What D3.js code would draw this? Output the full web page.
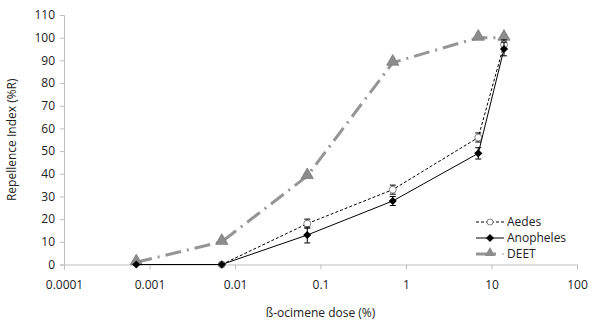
<!DOCTYPE html>
<html>
<head>
<meta charset="utf-8">
<script src="https://cdn.jsdelivr.net/npm/d3@7"></script>
<style>
  body { margin: 0; background: #fff; }
  svg text { font-family: "Open Sans", "Noto Sans", sans-serif; fill: #222; }
</style>
</head>
<body>
<div id="chart"></div>
<script>
// data
var doses = [0.0007, 0.007, 0.07, 0.7, 7, 14]
var aedesDose = [0.007, 0.07, 0.7, 7, 14]
var aedes = [0, 18, 33, 56, 97]
var aedesErr = [0, 2, 2, 2, 2]
var anophelesDose = [0.0007, 0.007, 0.07, 0.7, 7, 14]
var anopheles = [0, 0, 13, 28, 49, 95]
var anophelesErr = [0, 0, 3.5, 2, 2.5, 3]
var deet = [1, 10, 39, 89, 100, 100]
var xTicks = [0.0001, 0.001, 0.01, 0.1, 1, 10, 100]
var yTicks = [0, 10, 20, 30, 40, 50, 60, 70, 80, 90, 100, 110]

var width = 600, height = 326
var margin = {top: 15, right: 23, bottom: 61.5, left: 64}

var svg = d3.select("#chart").append("svg")
  .attr("width", width)
  .attr("height", height)

x = d3.scaleLog()
  .domain([0.0001, 100])
  .range([margin.left, width - margin.right])
y = d3.scaleLinear()
  .domain([0, 110])
  .range([height - margin.bottom, margin.top])

// axes
var xAxis = svg.append("g")
  .attr("transform", `translate(0,${height - margin.bottom})`)
  .call(d3.axisBottom(x).tickValues(xTicks).tickSize(5).tickPadding(11)
          .tickFormat(d => String(d)))
var yAxis = svg.append("g")
  .attr("transform", `translate(${margin.left},0)`)
  .call(d3.axisLeft(y).tickValues(yTicks).tickSize(4).tickPadding(5))

;[xAxis, yAxis].forEach(g => {
  g.select(".domain").attr("stroke", "#bfbfbf")
  g.selectAll(".tick line").attr("stroke", "#bfbfbf")
  g.selectAll(".tick text").style("font-size", "12px").attr("fill", "#222")
})

svg.append("text")
  .attr("transform", "translate(" + ((margin.left + width - margin.right) / 2) + "," + 317 + ")")
  .style("text-anchor", "middle")
  .style("font-size", "12px")
  .text("ß-ocimene dose (%)")

svg.append("text")
  .attr("transform", "translate(16," + ((margin.top + height - margin.bottom) / 2) + ") rotate(-90)")
  .style("text-anchor", "middle")
  .style("font-size", "12px")
  .text("Repellence Index (%R)")

// DEET
var deetLine = d3.line()
  .x((d, i) => x(doses[i]))
  .y(d => y(d))
svg.append("path")
  .datum(deet)
  .attr("fill", "none")
  .attr("stroke", "#959595")
  .attr("stroke-width", 3)
  .attr("stroke-dasharray", "16,6,2,6")
  .attr("d", deetLine)

var tri = d3.symbol().type(d3.symbolTriangle).size(65)
svg.append("g").selectAll("path")
  .data(deet)
  .join("path")
    .attr("transform", (d, i) => `translate(${x(doses[i])},${y(d) - 1})`)
    .attr("d", tri)
    .attr("fill", "#8c8c8c")
    .attr("stroke", "#7a7a7a")
    .attr("stroke-width", 0.8)

// error bars
function errBars(xs, vals, errs) {
  var g = svg.append("g").attr("stroke", "#000").attr("stroke-width", 1)
  vals.forEach((v, i) => {
    if (errs[i] <= 0) return
    var px = x(xs[i])
    g.append("line").attr("x1", px).attr("x2", px).attr("y1", y(v - errs[i])).attr("y2", y(v + errs[i]))
    g.append("line").attr("x1", px - 3).attr("x2", px + 3).attr("y1", y(v - errs[i])).attr("y2", y(v - errs[i]))
    g.append("line").attr("x1", px - 3).attr("x2", px + 3).attr("y1", y(v + errs[i])).attr("y2", y(v + errs[i]))
  })
}

// Aedes
var aedesLine = d3.line().x((d, i) => x(aedesDose[i])).y(d => y(d))
svg.append("path")
  .datum(aedes)
  .attr("fill", "none")
  .attr("stroke", "#000")
  .attr("stroke-width", 1)
  .attr("stroke-dasharray", "3,2")
  .attr("d", aedesLine)
errBars(aedesDose, aedes, aedesErr)
svg.append("g").selectAll("circle")
  .data(aedes)
  .join("circle")
    .attr("cx", (d, i) => x(aedesDose[i]))
    .attr("cy", d => y(d))
    .attr("r", 3.5)
    .attr("fill", "#fff")
    .attr("stroke", "#666")
    .attr("stroke-width", 0.8)

// Anopheles
var anoLine = d3.line().x((d, i) => x(anophelesDose[i])).y(d => y(d))
svg.append("path")
  .datum(anopheles)
  .attr("fill", "none")
  .attr("stroke", "#000")
  .attr("stroke-width", 1)
  .attr("d", anoLine)
errBars(anophelesDose, anopheles, anophelesErr)
var diamond = d3.symbol().type(d3.symbolDiamond2).size(42)
svg.append("g").selectAll("path")
  .data(anopheles)
  .join("path")
    .attr("transform", (d, i) => `translate(${x(anophelesDose[i])},${y(d)})`)
    .attr("d", diamond)
    .attr("fill", "#000")

// legend
var legend = svg.append("g").attr("transform", "translate(476,222)")
var rows = ["Aedes", "Anopheles", "DEET"]
rows.forEach((name, i) => {
  var g = legend.append("g").attr("transform", `translate(0,${i * 16})`)
  var ln = g.append("line").attr("x1", 0).attr("x2", 28).attr("y1", 0).attr("y2", 0)
  if (i == 0) {
    ln.attr("stroke", "#000").attr("stroke-dasharray", "3,2")
    g.append("circle").attr("cx", 14).attr("cy", 0).attr("r", 3).attr("fill", "#fff").attr("stroke", "#666").attr("stroke-width", 0.8)
  } else if (i == 1) {
    ln.attr("stroke", "#000")
    g.append("path").attr("transform", "translate(14,0)").attr("d", diamond).attr("fill", "#000")
  } else {
    ln.attr("x2", 20).attr("stroke", "#959595").attr("stroke-width", 3)
    g.append("path").attr("transform", "translate(14,-1)").attr("d", d3.symbol().type(d3.symbolTriangle).size(45)).attr("fill", "#8c8c8c")
    g.append("circle").attr("cx", 27).attr("cy", 0).attr("r", 0.8).attr("fill", "#959595")
  }
  g.append("text")
    .attr("x", 31)
    .attr("y", 4)
    .style("font-size", "12px")
    .text(name)
})
</script>
</body>
</html>
